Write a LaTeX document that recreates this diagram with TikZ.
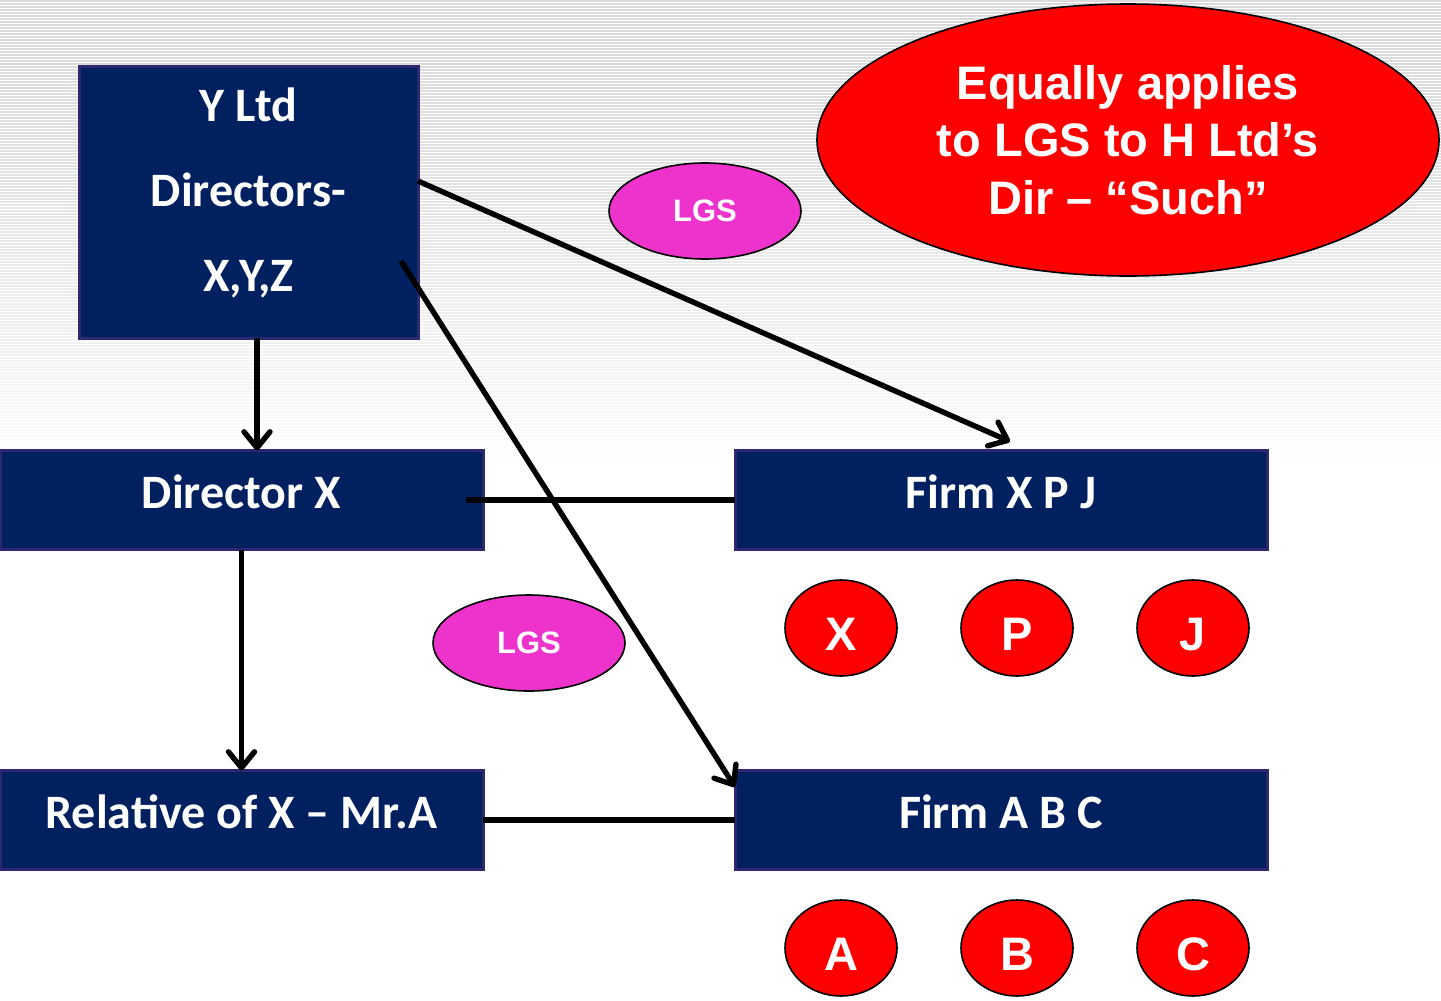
\documentclass[tikz,border=0pt]{standalone}
\usepackage{fontspec}
\setmainfont{Carlito}
\newfontfamily\arialfont{Liberation Sans}
\usetikzlibrary{shapes.geometric,arrows.meta}
\definecolor{navy}{RGB}{0,32,96}
\definecolor{navyedge}{RGB}{46,40,112}
\definecolor{lgsmagenta}{RGB}{238,51,204}
\definecolor{brightred}{RGB}{255,0,0}
\tikzset{
  box/.style={rectangle, fill=navy, draw=navyedge, line width=1.5pt,
    inner sep=0pt, outer sep=0pt, text=white,
    font=\fontsize{24}{28}\selectfont\bfseries},
  widebox/.style={box, minimum height=49.5pt},
  boxtext/.style={text height=17pt, text depth=9pt},
  lgs/.style={ellipse, fill=lgsmagenta, draw=black, line width=0.8pt,
    minimum width=96pt, minimum height=48pt, inner sep=0pt, text=white,
    font=\arialfont\fontsize{15.5}{18}\selectfont\bfseries},
  member/.style={ellipse, fill=brightred, draw=black, line width=0.8pt,
    minimum width=56pt, minimum height=48pt, inner sep=0pt, text=white,
    text height=22.8pt, text depth=0pt,
    font=\arialfont\fontsize{23.5}{28}\selectfont\bfseries},
  note/.style={ellipse, fill=brightred, draw=black, line width=0.8pt,
    minimum width=311pt, minimum height=136pt, inner sep=0pt, text=white,
    align=center, font=\arialfont\fontsize{23.5}{28.75}\selectfont\bfseries},
  link/.style={line width=2.7pt, draw=black},
  arr/.style={link, -{Straight Barb[length=8pt,width=13pt,line width=2.7pt,round]}},
}
\begin{document}
\begin{tikzpicture}[x=0.5pt, y=-0.5pt]
  \useasboundingbox (0,0) rectangle (1441,1001);
  \fill[white] (0,0) rectangle (1441,1001);
  % faint horizontal striping that fades out towards the middle
  \foreach \i in {0,...,155} {
    \pgfmathsetmacro{\op}{1-(\i/155)^1.5}
    \draw[gray!28, line width=0.6pt, opacity=\op] (0,{3*\i+1}) -- (1441,{3*\i+1});
  }

  % company and people boxes
  \node[box, minimum width=169.5pt, minimum height=136pt, align=center,
        font=\fontsize{24}{42.5}\selectfont\bfseries, text depth=12.5pt]
        (ylt) at (248.5,202) {Y Ltd\\Directors-\\X,Y,Z};
  \node[widebox, boxtext, minimum width=241.5pt] (dirx) at (241.5,500) {Director X};
  \node[widebox, boxtext, minimum width=266pt] (fxpj) at (1001,500) {Firm X P J};
  \node[widebox, boxtext, minimum width=241.5pt] (rel) at (241.5,820) {Relative of X – Mr.A};
  \node[widebox, boxtext, minimum width=266pt] (fabc) at (1001,820) {Firm A B C};

  % LGS ovals
  \node[lgs] (lgsa) at (705,211) {LGS};
  \node[lgs] (lgsb) at (529,643) {LGS};

  % partners of each firm
  \node[member] (px) at (841,628) {X};
  \node[member] (pp) at (1017,628) {P};
  \node[member] (pj) at (1193,628) {J};
  \node[member] (pa) at (841,948) {A};
  \node[member] (pb) at (1017,948) {B};
  \node[member] (pc) at (1193,948) {C};

  % note
  \node[note] (such) at (1128,140) {Equally applies\\to LGS to H Ltd’s\\Dir – “Such”};

  % connectors
  \draw[arr] ([yshift=10.5pt]ylt.east) -- ([xshift=4.5pt,yshift=4.5pt]fxpj.north);
  \draw[arr] ([xshift=-8.5pt,yshift=-29.5pt]ylt.east) -- ([yshift=16.5pt]fabc.west);
  \draw[arr] ([xshift=4.25pt]ylt.south) -- ([xshift=7.75pt]dirx.north);
  \draw[arr] (dirx.south) -- (rel.north);
  \draw[link] ([xshift=-8.5pt]dirx.east) -- (fxpj.west);
  \draw[link] (rel.east) -- (fabc.west);
\end{tikzpicture}
\end{document}
